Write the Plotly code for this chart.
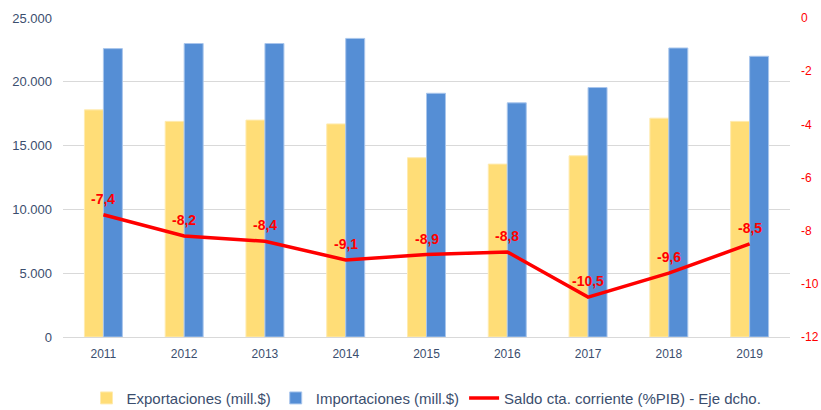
import plotly.graph_objects as go

years = ["2011", "2012", "2013", "2014", "2015", "2016", "2017", "2018", "2019"]
exportaciones = [17800, 16900, 17000, 16700, 14050, 13550, 14200, 17150, 16900]
importaciones = [22600, 23000, 23000, 23400, 19100, 18350, 19550, 22650, 22000]
saldo = [-7.4, -8.2, -8.4, -9.1, -8.9, -8.8, -10.5, -9.6, -8.5]
saldo_ticks = [0, -2, -4, -6, -8, -10, -12]

FONT = "Liberation Sans, Arial, sans-serif"
AXIS_TXT = "#3B4E6E"

fig = go.Figure()
fig.add_trace(go.Bar(
    x=years, y=exportaciones, name="Exportaciones (mill.$)",
    marker=dict(color="#FFDD77", line=dict(color="#FFEBB0", width=1)),
))
fig.add_trace(go.Bar(
    x=years, y=importaciones, name="Importaciones (mill.$)",
    marker=dict(color="#558ED5", line=dict(color="#A9C6EC", width=1)),
))
fig.add_trace(go.Scatter(
    x=years, y=saldo, name="Saldo cta. corriente (%PIB) - Eje dcho.",
    mode="lines", yaxis="y2",
    line=dict(color="#FF0000", width=3.5),
))

# value labels above the current-account line (category index on x)
for i, v in enumerate(saldo):
    fig.add_annotation(
        x=i, y=v, xref="x", yref="y2",
        text=f"{v:.1f}".replace(".", ","),
        showarrow=False, yshift=16,
        font=dict(family=FONT, size=14, color="#FF0000", weight="bold"),
    )

fig.update_layout(
    width=821, height=410,
    margin=dict(l=63, r=31, t=18, b=73, autoexpand=False),
    paper_bgcolor="white", plot_bgcolor="white",
    separators=",.",
    barmode="group", bargap=0.53, bargroupgap=0,
    font=dict(family=FONT, size=12, color=AXIS_TXT),
    showlegend=True,
    legend=dict(
        orientation="h", x=0.5, xanchor="center", y=-0.14, yanchor="top",
        font=dict(family=FONT, size=15, color=AXIS_TXT),
        itemwidth=30, traceorder="normal",
    ),
    xaxis=dict(
        type="category", range=[-0.5, len(years) - 0.5],
        showgrid=False, showline=True, linecolor="#D9D9D9", linewidth=1,
        ticks="", tickfont=dict(size=12, color=AXIS_TXT),
        ticklabelstandoff=6,
    ),
    yaxis=dict(
        range=[0, 25000], dtick=5000, tickformat=",.0f",
        showgrid=True, gridcolor="#D9D9D9", gridwidth=1,
        zeroline=False, showline=False, ticks="",
        tickfont=dict(size=13, color=AXIS_TXT),
        ticklabelstandoff=10,
    ),
    yaxis2=dict(
        range=[-12, 0], tickmode="array", tickvals=saldo_ticks,
        ticktext=[str(t) for t in saldo_ticks],
        overlaying="y", side="right",
        showgrid=False, zeroline=False, showline=False, ticks="",
        tickfont=dict(size=12, color="#FF0000"),
        ticklabelstandoff=10,
    ),
)

fig.write_html("out.html")
